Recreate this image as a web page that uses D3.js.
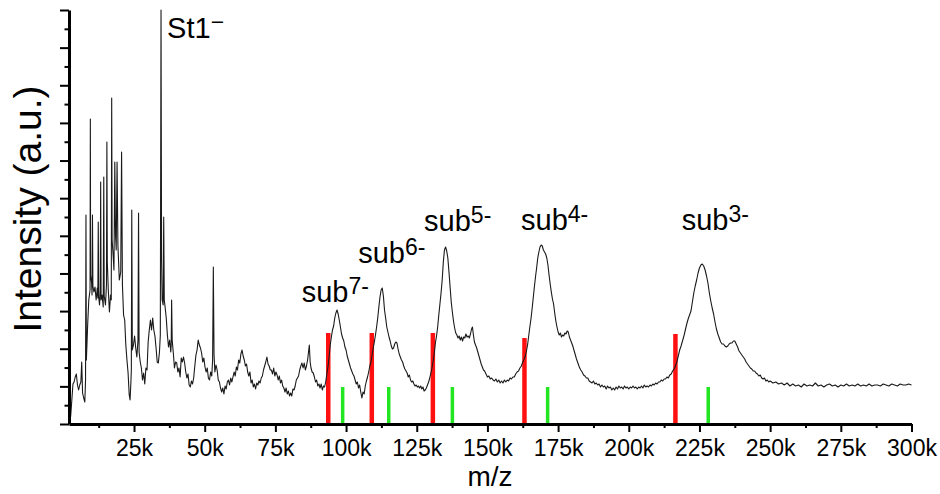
<!DOCTYPE html>
<html>
<head>
<meta charset="utf-8">
<script src="https://cdn.jsdelivr.net/npm/d3@7"></script>
<style>
  body { margin: 0; background: #fff; }
  svg { display: block; }
  text { font-family: "Liberation Sans", Arial, sans-serif; fill: #000; }
</style>
</head>
<body>
<div id="chart"></div>
<script>
// m/z in thousands, intensity in arbitrary units
const spectrum = [
  [2.1,0],[2.6,8],[3.0,24],[3.4,40],[3.8,42],[4.2,47],[4.6,50],[5.0,39],[5.4,34],[5.8,39],[6.2,42],[6.5,62],[6.8,31],[7.2,26],[7.6,22],[7.85,44],[8.0,209],[8.15,64],[8.6,99],[9.0,124],[9.45,134],[9.55,305],[9.65,149],
  [10.0,141],[10.15,129],[10.3,209],[10.45,138],[10.8,132],[11.2,137],[11.6,124],[12.0,136],[12.2,126],[12.35,202],[12.5,127],[12.8,119],[13.05,134],[13.2,242],[13.35,124],[13.7,129],[14.1,117],[14.3,247],[14.45,128],[14.9,119],[15.25,139],[15.4,282],[15.55,162],[15.9,134],[16.3,112],[16.7,129],[16.95,124],[17.1,326],[17.25,184],[17.6,169],[17.9,154],[18.2,262],[18.45,189],[18.7,174],[19.0,262],[19.3,179],[19.8,144],
  [20.3,152],[20.6,272],[20.9,139],[21.3,109],[21.7,104],[22.1,79],[22.5,64],[22.9,51],[23.3,29],[23.6,24],[23.9,42],[24.05,54],[24.2,214],[24.4,74],[24.8,79],[25.2,88],[25.6,76],[26.0,67],[26.4,84],[26.6,211],[26.8,72],[27.2,62],[27.6,56],[28.0,44],[28.4,51],[28.8,40],[29.2,56],[29.6,54],
  [30.0,82],[30.4,94],[30.8,104],[31.2,94],[31.6,106],[32.0,94],[32.4,88],[32.8,76],[33.2,62],[33.6,61],[34.0,72],[34.3,89],[34.55,414],[34.75,164],[34.95,124],[35.3,119],[35.5,207],[35.7,124],[36.0,117],[36.4,106],[36.8,89],[37.2,77],[37.6,84],[38.0,72],[38.15,79],[38.3,124],[38.5,84],[38.9,71],[39.3,56],[39.7,62],
  [40.1,61],[40.5,52],[40.9,56],[41.3,47],[41.7,66],[42.1,62],[42.5,67],[42.9,61],[43.3,52],[43.7,46],[44.1,50],[44.5,39],[44.9,37],[45.3,43],[45.7,40],[46.1,46],[46.5,58],[46.9,69],[47.3,74],[47.7,84],[48.1,79],[48.5,76],[48.9,71],[49.3,62],[49.7,66],
  [50.1,57],[50.5,52],[50.9,56],[51.3,46],[51.7,44],[52.1,52],[52.5,48],[52.8,64],[53.05,157],[53.3,69],[53.6,52],[54.0,59],[54.4,54],[54.8,44],[55.2,42],[55.6,36],[56.0,32],[56.4,36],[56.8,30],[57.2,38],[57.6,35],[58.0,42],[58.4,44],[58.8,39],[59.2,46],[59.6,42],
  [60.0,47],[60.4,52],[60.8,48],[61.2,57],[61.6,54],[62.0,64],[62.4,61],[62.8,70],[63.2,74],[63.6,68],[64.0,64],[64.4,58],[64.8,60],[65.2,52],[65.6,48],[66.0,52],[66.4,41],[66.8,44],[67.2,37],[67.6,40],[68.0,35],[68.4,41],[68.8,39],[69.2,43],[69.6,41],
  [70.0,46],[70.4,48],[70.8,54],[71.2,58],[71.6,62],[72.0,67],[72.4,60],[72.8,58],[73.2,54],[73.6,54],[74.0,50],[74.4,56],[74.8,48],[75.2,52],[75.6,49],[76.0,44],[76.4,48],[76.8,41],[77.2,44],[77.6,38],[78.0,36],[78.4,32],[78.8,36],[79.2,30],[79.6,33],
  [80.0,28],[80.4,31],[80.8,28],[81.2,35],[81.6,34],[82.0,38],[82.4,44],[82.8,46],[83.2,48],[83.6,54],[84.0,58],[84.4,61],[84.8,56],[85.2,61],[85.6,54],[86.0,58],[86.4,64],[86.8,74],[87.0,79],[87.3,62],[87.6,56],[88.0,52],[88.4,51],[88.8,47],[89.2,42],[89.6,44],
  [90.0,38],[90.4,40],[90.8,36],[91.2,40],[91.6,34],[92.0,38],[92.4,37],[92.8,42],[93.2,50],[93.6,57],[94.0,67],[94.4,79],[94.8,87],[95.2,94],[95.6,98],[96.0,106],[96.4,111],[96.8,114],[97.2,110],[97.6,104],[98.0,97],[98.4,90],[98.8,86],[99.2,83],[99.6,77],
  [100.0,74],[100.4,68],[100.8,64],[101.2,60],[101.6,56],[102.0,53],[102.4,50],[102.8,48],[103.2,44],[103.6,40],[104.0,42],[104.4,36],[104.8,39],[105.2,32],[105.6,26],[106.0,32],[106.4,30],[106.8,38],[107.2,43],[107.6,47],[108.0,52],[108.4,58],[108.8,62],[109.2,69],[109.6,76],
  [110.0,82],[110.4,89],[110.8,97],[111.2,106],[111.6,117],[112.0,127],[112.4,134],[112.8,136],[113.2,128],[113.6,114],[114.0,106],[114.4,97],[114.8,92],[115.2,87],[115.6,83],[116.0,78],[116.4,75],[116.8,76],[117.2,80],[117.6,82],[118.0,81],[118.4,75],[118.8,70],[119.2,67],[119.6,64],
  [120.0,62],[120.4,58],[120.8,55],[121.2,53],[121.6,51],[122.0,47],[122.4,49],[122.8,44],[123.2,42],[123.6,43],[124.0,40],[124.4,38],[124.8,39],[125.2,37],[125.6,38],[126.0,36],[126.4,38],[126.8,35],[127.2,37],[127.6,33],[128.0,34],[128.4,36],[128.8,39],[129.2,42],[129.6,46],
  [130.0,51],[130.4,56],[130.8,63],[131.2,71],[131.6,81],[132.0,88],[132.4,97],[132.8,109],[133.2,120],[133.6,131],[134.0,144],[134.4,162],[134.8,174],[135.2,177],[135.6,173],[136.0,166],[136.4,152],[136.8,137],[137.2,122],[137.6,112],[138.0,103],[138.4,96],[138.8,91],[139.2,89],[139.6,86],
  [140.0,88],[140.4,84],[140.8,87],[141.2,83],[141.6,87],[142.0,86],[142.4,90],[142.8,87],[143.2,88],[143.6,86],[144.0,90],[144.4,95],[144.7,97],[145.0,90],[145.4,82],[145.8,79],[146.2,76],[146.6,72],[147.0,68],[147.4,64],[147.8,60],[148.2,57],[148.6,54],[149.0,53],[149.5,50],
  [150.0,47],[150.5,48],[151.0,45],[151.5,46],[152.0,44],[152.5,43],[153.0,45],[153.5,42],[154.0,44],[154.5,41],[155.0,43],[155.5,41],[156.0,44],[156.5,42],[157.0,44],[157.5,43],[158.0,46],[158.5,45],[159.0,47],[159.5,47],
  [160.0,50],[160.5,52],[161.0,53],[161.5,56],[162.0,58],[162.5,62],[163.0,65],[163.4,68],[163.8,73],[164.2,79],[164.6,88],[165.0,97],[165.4,105],[165.8,115],[166.2,126],[166.6,137],[167.0,147],[167.4,156],[167.8,166],[168.2,172],[168.6,177],[169.0,179],[169.4,178],[169.8,174],
  [170.2,172],[170.6,170],[171.0,166],[171.4,159],[171.8,149],[172.2,140],[172.6,132],[173.0,125],[173.4,120],[173.8,111],[174.2,103],[174.6,97],[175.0,92],[175.4,89],[175.8,91],[176.2,87],[176.6,89],[177.0,88],[177.4,91],[177.8,90],[178.2,93],[178.6,92],[179.0,87],[179.4,84],[179.8,81],
  [180.2,78],[180.6,74],[181.0,70],[181.5,65],[182.0,61],[182.5,57],[183.0,54],[183.5,52],[184.0,49],[184.5,48],[185.0,46],[185.5,46],[186.0,43],[186.5,42],[187.0,41],[187.5,43],[188.0,40],[188.5,41],[189.0,39],[189.5,40],
  [190.0,37],[190.5,39],[191.0,37],[191.5,38],[192.0,35],[192.5,38],[193.0,36],[193.5,37],[194.0,34],[194.5,36],[195.0,34],[195.5,37],[196.0,35],[196.5,38],[197.0,36],[197.5,37],[198.0,35],[198.5,38],[199.0,36],[199.5,37],
  [200.0,35],[200.5,37],[201.0,36],[201.5,38],[202.0,36],[202.5,37],[203.0,35],[203.5,37],[204.0,36],[204.5,38],[205.0,36],[205.5,39],[206.0,37],[206.5,38],[207.0,37],[207.5,39],[208.0,38],[208.5,40],[209.0,39],[209.5,41],
  [210.0,40],[210.5,42],[211.0,42],[211.5,44],[212.0,43],[212.5,45],[213.0,45],[213.5,47],[214.0,46],[214.5,49],[215.0,50],[215.5,53],[216.0,55],[216.5,58],[217.0,62],[217.5,68],[218.0,74],[218.5,78],[219.0,83],[219.5,88],
  [220.0,94],[220.5,100],[221.0,105],[221.5,109],[222.0,113],[222.5,122],[223.0,131],[223.5,138],[224.0,144],[224.5,151],[225.0,156],[225.5,159],[226.0,160],[226.5,158],[227.0,154],[227.5,148],[228.0,141],[228.5,131],[229.0,123],[229.5,116],
  [230.0,110],[230.5,102],[231.0,95],[231.5,90],[232.0,86],[232.5,82],[233.0,80],[233.5,80],[234.0,78],[234.5,77],[235.0,78],[235.5,80],[236.0,81],[236.5,81],[237.0,83],[237.5,83],[238.0,80],[238.5,77],[239.0,73],[239.5,71],
  [240.0,69],[240.5,67],[241.0,65],[241.5,62],[242.0,60],[242.5,58],[243.0,56],[243.5,55],[244.0,53],[244.5,53],[245.0,51],[245.5,50],[246.0,48],[246.5,49],[247.0,46],[247.5,45],[248.0,46],[248.5,43],[249.0,44],[249.5,42],
  [250,43],[251,41],[252,42],[253,40],[254,41],[255,39],[256,41],[257,38],[258,40],[259,38],[260,39],[261,37],[262,40],[263,38],[264,39],[265,38],[266,41],[267,38],[268,39],[269,37],
  [270,39],[271,40],[272,38],[273,39],[274,37],[275,39],[276,38],[277,40],[278,38],[279,39],[280,38],[281,40],[282,38],[283,39],[284,38],[285,40],[286,38],[287,39],[288,39],[289,38],
  [290,40],[291,39],[292,38],[293,40],[294,39],[295,38],[296,40],[297,39],[298,39],[299,40],[300,39]
];

// marker lines: [m/z (k), height (a.u.)]
const redMarkers = [[93.7,91],[109.1,91],[130.7,91],[163.1,86],[216.5,90]];
const greenMarkers = [[98.8,37],[115.1,37],[137.6,37],[171.3,37],[228.1,37]];

// peak labels: name, superscript, anchor (m/z, intensity)
const labelNames = ["St1", "sub", "sub", "sub", "sub", "sub"];
const labelCharges = ["\u2212", "7-", "6-", "5-", "4-", "3-"];
const labelMz = [36.7, 84.3, 104.3, 127.6, 161.9, 218.7];
const labelIntensity = [386, 122, 161, 193, 194, 194];

const xTicks = [25, 50, 75, 100, 125, 150, 175, 200, 225, 250, 275, 300];
const xMinorTicks = [12.5, 37.5, 62.5, 87.5, 112.5, 137.5, 162.5, 187.5, 212.5, 237.5, 262.5, 287.5];
const yMax = 414;

const width = 940, height = 494;

const svg = d3.select("#chart").append("svg")
  .attr("width", width)
  .attr("height", height);

const x = d3.scaleLinear().domain([2, 300]).range([69, 911.5]);
const y = d3.scaleLinear().domain([0, yMax]).range([424, 10]);

// y ticks: 11 major steps, minor halfway (axis is unlabeled)
const yMajor = d3.range(0, 12).map(i => i * yMax / 11);
const yMinor = d3.range(0, 11).map(i => (i + 0.5) * yMax / 11);

// markers below the trace
svg.append("g").selectAll("line")
  .data(redMarkers)
  .enter().append("line")
  .attr("x1", d => x(d[0])).attr("x2", d => x(d[0]))
  .attr("y1", y(0)).attr("y2", d => y(d[1]))
  .attr("stroke", "#ff1010")
  .attr("stroke-width", 4.5);

svg.append("g").selectAll("line")
  .data(greenMarkers)
  .enter().append("line")
  .attr("x1", d => x(d[0])).attr("x2", d => x(d[0]))
  .attr("y1", y(0)).attr("y2", d => y(d[1]))
  .attr("stroke", "#22e622")
  .attr("stroke-width", 3.5);

// spectrum
svg.append("path")
  .datum(spectrum)
  .attr("fill", "none")
  .attr("stroke", "#1a1a1a")
  .attr("stroke-width", 1.1)
  .attr("stroke-linejoin", "round")
  .attr("d", d3.line().x(d => x(d[0])).y(d => y(d[1])));

// axes
const xMinorAxis = svg.append("g")
  .attr("transform", `translate(0,${y(0)})`)
  .call(d3.axisBottom(x).tickValues(xMinorTicks).tickSize(4).tickFormat(""));
xMinorAxis.select(".domain").remove();

const xAxis = svg.append("g")
  .attr("transform", `translate(0,${y(0)})`)
  .call(d3.axisBottom(x).tickValues(xTicks).tickSize(8).tickSizeOuter(0).tickPadding(8).tickFormat(d => d + "k"));

const yMinorAxis = svg.append("g")
  .attr("transform", `translate(${x(2)},0)`)
  .call(d3.axisLeft(y).tickValues(yMinor).tickSize(4.5).tickFormat(""));
yMinorAxis.select(".domain").remove();

const yAxis = svg.append("g")
  .attr("transform", `translate(${x(2)},0)`)
  .call(d3.axisLeft(y).tickValues(yMajor).tickSize(9).tickSizeOuter(0).tickFormat(""));

svg.selectAll(".domain").attr("stroke", "#000").attr("stroke-width", 3);
svg.selectAll(".tick line").attr("stroke", "#000").attr("stroke-width", 2);
xAxis.selectAll(".tick text")
  .style("font-family", '"Liberation Sans", Arial, sans-serif')
  .style("font-size", "23px")
  .attr("fill", "#000");

// axis titles
svg.append("text")
  .attr("x", 490)
  .attr("y", 486)
  .attr("text-anchor", "middle")
  .style("font-size", "28px")
  .text("m/z");

svg.append("text")
  .attr("transform", "translate(41,209) rotate(-90)")
  .attr("text-anchor", "middle")
  .style("font-size", "39px")
  .text("Intensity (a.u.)");

// peak labels with superscript charge
labelNames.forEach((name, i) => {
  const t = svg.append("text")
    .attr("x", x(labelMz[i]))
    .attr("y", y(labelIntensity[i]))
    .style("font-size", "29px");
  t.append("tspan").text(name);
  t.append("tspan")
    .attr("dy", -8)
    .style("font-size", "23px")
    .text(labelCharges[i]);
});
</script>
</body>
</html>
